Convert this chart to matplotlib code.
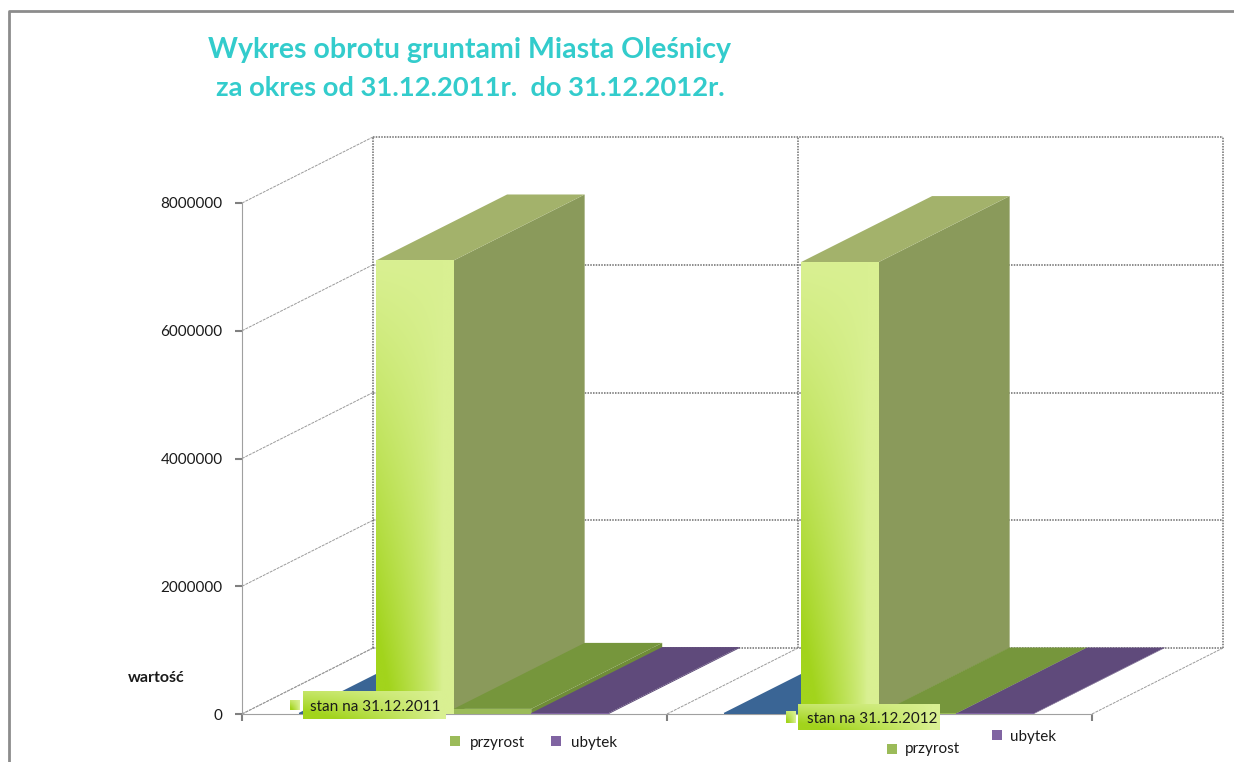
import numpy as np
import matplotlib
matplotlib.use('Agg')
import matplotlib.pyplot as plt
from matplotlib.patches import Polygon, Rectangle
from matplotlib.lines import Line2D

plt.rcParams['font.family'] = ['Lato', 'DejaVu Sans']

# dane
okresy = ['stan na 31.12.2011', 'stan na 31.12.2012']
serie = ['stan poczatkowy', 'stan', 'przyrost', 'ubytek']
stan_pocz = [15000, 15000]
stan = [7100000, 7075000]
przyrost = [80000, 8000]
ubytek = [15000, 8000]
wartosci = [stan_pocz, stan, przyrost, ubytek]
y_ticks = [0, 2000000, 4000000, 6000000, 8000000]
tytul_1 = 'Wykres obrotu gruntami Miasta Oleśnicy'
tytul_2 = 'za okres od 31.12.2011r.  do 31.12.2012r.'

# kolory scian: przod, bok, gora
kolory = [('#3A6595', '#335A86', '#3A6595'),
          ('#D9F092', '#8A9A5B', '#A3B26B'),
          ('#9BBB59', '#6F8C38', '#76963C'),
          ('#8064A2', '#54406F', '#5F4A7B')]

W, H = 1234, 762
PX_X = 425.0  # pikseli na kategorie
PX_Y = 511.0 / 8000000  # pikseli na jednostke
X0, Y0 = 242, 714
DX = 131 / PX_X  # przesuniecie glebi
DY = 66 / PX_Y
SZER = 0.1825
PRZERWA = 0.133

fig = plt.figure(figsize=(W / 100, H / 100), dpi=100)
ax = fig.add_axes([0, 0, 1, 1])
ax.patch.set_alpha(0)
ax.set_xlim(-X0 / PX_X, (W - X0) / PX_X)
ax.set_ylim((Y0 - H) / PX_Y, Y0 / PX_Y)


def px(x, y):
    return x / W, 1 - y / H


def gradient(u, t):
    # jasny zielony u gory i po prawej, nasycony na dole po lewej
    jasny = np.array([0xD9, 0xF0, 0x92]) / 255
    ciemny = np.array([0xA2, 0xD4, 0x1C]) / 255
    m = np.clip(1 - u / 0.85, 0, 1) ** 0.8 * np.clip(1 - t / 1.0, 0, 1) ** 1.1
    return jasny + (ciemny - jasny) * np.clip(m * 1.25, 0, 1)[..., None]


# sciany wykresu
sc = dict(color='#6e6e6e', lw=1.1, ls=(0, (1, 0.8)), zorder=1)
for v in y_ticks:
    ax.plot([0, DX], [v, v + DY], color='#9a9a9a', lw=0.7, ls=(0, (3, 1)), zorder=1)
    ax.plot([DX, DX + 2], [v + DY, v + DY], **sc)
for k in [0, 1, 2]:
    ax.plot([k + DX, k + DX], [DY, 8000000 + DY], **sc)
    ax.plot([k, k + DX], [0, DY], color='#9a9a9a', lw=0.7, ls=(0, (3, 1)), zorder=1)

# osie
ax.spines['top'].set_visible(False)
ax.spines['right'].set_visible(False)
ax.spines['left'].set_position(('data', 0))
ax.spines['bottom'].set_position(('data', 0))
ax.spines['left'].set_bounds(0, 8000000)
ax.spines['bottom'].set_bounds(0, 2)
ax.spines['left'].set_color('#a0a0a0')
ax.spines['bottom'].set_color('#a0a0a0')
ax.spines['bottom'].set_linestyle((0, (1, 1)))
ax.set_yticks(y_ticks)
ax.set_yticklabels([str(v) for v in y_ticks], fontsize=11, color='#1a1a1a')
ax.set_xticks([0, 1, 2])
ax.set_xticklabels(['', '', ''])
ax.tick_params(axis='both', color='#808080', width=1.5, length=5, direction='out')
ax.tick_params(axis='y', pad=9)

# slupki
z = 3
for k in range(len(okresy)):
    for s in range(len(serie)):
        v = wartosci[s][k]
        x1 = k + PRZERWA + s * SZER
        x2 = x1 + SZER
        przod, bok, gora = kolory[s]
        ax.add_patch(Polygon([(x2, 0), (x2 + DX, DY), (x2 + DX, v + DY), (x2, v)], fc=bok, ec='none', zorder=z))
        ax.add_patch(Polygon([(x1, v), (x2, v), (x2 + DX, v + DY), (x1 + DX, v + DY)], fc=gora, ec='none', zorder=z))
        if s == 1:
            u, t = np.meshgrid(np.linspace(0, 1, 80), np.linspace(0, 1, 200))
            ax.imshow(gradient(u, t), extent=(x1, x2, 0, v), origin='lower', aspect='auto',
                      interpolation='bilinear', zorder=z)
        else:
            ax.add_patch(Rectangle((x1, 0), SZER, v, fc=przod, ec='none', zorder=z))
        z += 1
ax.set_xlim(-X0 / PX_X, (W - X0) / PX_X)
ax.set_ylim((Y0 - H) / PX_Y, Y0 / PX_Y)

# ramka obrazka
ramka = dict(color='#8c8c8c', lw=2, transform=fig.transFigure)
fig.add_artist(Line2D(*zip(px(9, 762), px(9, 11), px(1234, 11)), **ramka))

# tytul
fig.text(*px(470, 50), tytul_1, color='#33CCCC', fontsize=20.5, fontweight='bold', ha='center', va='center')
fig.text(*px(470, 88), tytul_2, color='#33CCCC', fontsize=19.7, fontweight='bold', ha='center', va='center')

fig.text(*px(156, 678), 'wartość', fontsize=11.5, fontweight='bold', ha='center', va='center', color='#1a1a1a')


# etykiety legendy
def obrazek(x1, x2, y1, y2):
    ax_l = fig.add_axes([x1 / W, 1 - y2 / H, (x2 - x1) / W, (y2 - y1) / H], zorder=5)
    u, t = np.meshgrid(np.linspace(0, 1, 60), np.linspace(0, 1, 30))
    rgb = gradient(u * 0.9, t * 0.7)
    ax_l.imshow(rgb, origin='lower', aspect='auto', interpolation='bilinear')
    ax_l.axis('off')


obrazek(303, 446, 691, 719)
obrazek(290, 300, 700, 710)
obrazek(798, 940, 704, 730)
obrazek(786, 796, 711, 723)
fig.text(*px(375, 707), okresy[0], fontsize=11, ha='center', va='center', color='#1a1a1a', zorder=6)
fig.text(*px(872, 719), okresy[1], fontsize=11, ha='center', va='center', color='#1a1a1a', zorder=6)

for x, y, kolor, nazwa, xt, yt in [(450, 736, kolory[2][0], serie[2], 470, 743),
                                   (551, 736, kolory[3][0], serie[3], 571, 743),
                                   (887, 744, kolory[2][0], serie[2], 905, 749),
                                   (992, 730, kolory[3][0], serie[3], 1010, 737)]:
    fig.add_artist(Rectangle(px(x, y + 10), 10 / W, 10 / H, fc=kolor, ec='none', transform=fig.transFigure))
    fig.text(*px(xt, yt), nazwa, fontsize=11, ha='left', va='center', color='#1a1a1a')

fig.savefig('out.png', dpi=100, facecolor='white')
